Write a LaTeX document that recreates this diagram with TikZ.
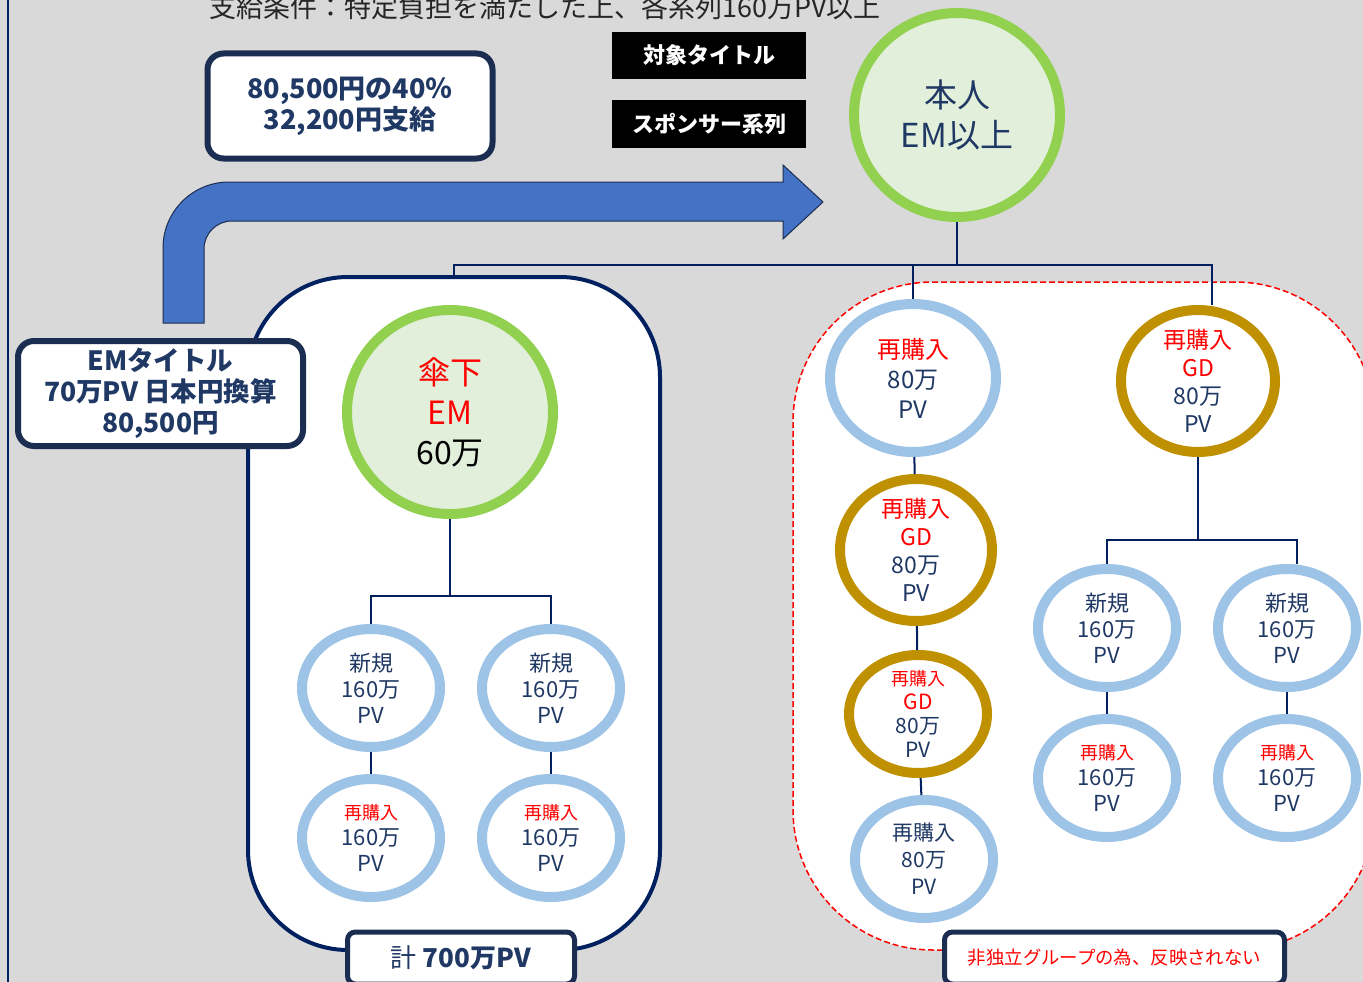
\documentclass[tikz,border=0pt]{standalone}
\usepackage{fontspec}
\setmainfont{Noto Sans CJK JP}
\usetikzlibrary{shapes.geometric}

\definecolor{bggray}{HTML}{D9D9D9}
\definecolor{linenavy}{HTML}{002060}
\definecolor{boxnavy}{HTML}{1C2D52}
\definecolor{textnavy}{HTML}{1F3864}
\definecolor{ringblue}{HTML}{9DC3E6}
\definecolor{ringgold}{HTML}{BF9000}
\definecolor{ringgreen}{HTML}{92D050}
\definecolor{greenfill}{HTML}{E2EFDA}
\definecolor{arrowblue}{HTML}{4472C4}

\begin{document}
\begin{tikzpicture}[x=1pt, y=-1pt,
    wire/.style={draw=linenavy, line width=2pt},
    ring/.style={ellipse, draw, line width=10pt, fill=white, inner sep=-12pt, align=center, text=textnavy, font=\fontsize{22}{26}\selectfont},
    blue ring/.style={ring, draw=ringblue, minimum width=138pt, minimum height=118pt},
    gold ring/.style={ring, draw=ringgold},
    green ring/.style={ring, draw=ringgreen, fill=greenfill, minimum width=206pt, minimum height=204pt},
    infobox/.style={draw=boxnavy, line width=6pt, fill=white, rounded corners=16pt, align=center, text=textnavy, minimum width=285pt, minimum height=105pt, font=\bfseries\fontsize{26.5}{31}\selectfont},
    tagbox/.style={fill=black, text=white, minimum width=194pt, minimum height=47pt, font=\bfseries\fontsize{22}{26}\selectfont}]

    \useasboundingbox (0,0) rectangle (1363,982);
    \clip (0,0) rectangle (1363,982);
    \fill[bggray] (0,0) rectangle (1363,982);
    \draw[linenavy, line width=1.5pt] (8,0) -- (8,982);

    \node[font=\fontsize{27}{30}\selectfont, text=black!85] (cond) at (545,7) {支給条件：特定負担を満たした上、各系列160万PV以上};

    % bent arrow
    \filldraw[fill=arrowblue, draw=boxnavy, line width=1pt] (163,323) -- (163,248) .. controls (163,211.5) and (192.5,182) .. (229,182) -- (783,182) -- (783,165) -- (823,202) -- (783,239) -- (783,221) -- (232,221) .. controls (216.5,221) and (204,233.5) .. (204,249) -- (204,323) -- cycle;

    \node[infobox, font=\bfseries\fontsize{27}{31}\selectfont] (pay) at (350,106) {80,500円の40％\\32,200円支給};
    \node[tagbox] (tag1) at (709,55.5) {対象タイトル};
    \node[tagbox, minimum height=48pt] (tag2) at (709,124) {スポンサー系列};

    % groups
    \node[draw=linenavy, line width=4pt, fill=white, rounded corners=100pt, minimum width=412pt, minimum height=673pt] (lbox) at (454,613.5) {};
    \node[draw=red, dash pattern=on 6pt off 3pt, line width=1.5pt, fill=white, rounded corners=140pt, minimum width=582pt, minimum height=668pt] (rbox) at (1084,616) {};

    \node[infobox] (emtitle) at (160.5,393.5) {EMタイトル\\70万PV 日本円換算\\80,500円};

    \node[green ring, font=\fontsize{33}{40}\selectfont] (top) at (957,115) {本人\\EM以上};
    \node[green ring, text=black, font=\fontsize{32}{40}\selectfont] (em) at (450,412) {\textcolor{red}{傘下}\\\textcolor{red}{EM}\\60万};

    % left tree
    \node[blue ring] (n1) at (371,688) {新規\\160万\\PV};
    \node[blue ring] (n2) at (551,688) {新規\\160万\\PV};
    \node[blue ring] (r1) at (371,838) {{\color{red}\fontsize{18}{22}\selectfont 再購入}\\160万\\PV};
    \node[blue ring] (r2) at (551,838) {{\color{red}\fontsize{18}{22}\selectfont 再購入}\\160万\\PV};

    % right group
    \node[blue ring, minimum width=166pt, minimum height=148pt, font=\fontsize{24}{30}\selectfont] (re1) at (913,378) {\textcolor{red}{再購入}\\80万\\PV};
    \node[gold ring, minimum width=152pt, minimum height=142pt, font=\fontsize{23}{28}\selectfont] (gd2) at (916,550) {\textcolor{red}{再購入}\\\textcolor{red}{GD}\\80万\\PV};
    \node[gold ring, minimum width=138pt, minimum height=118pt, font=\fontsize{21}{24}\selectfont] (gd3) at (918,714) {{\color{red}\fontsize{18}{22}\selectfont 再購入}\\\textcolor{red}{GD}\\80万\\PV};
    \node[blue ring, font=\fontsize{21}{27}\selectfont] (re2) at (924,859) {再購入\\80万\\PV};
    \node[gold ring, minimum width=154pt, minimum height=142pt, font=\fontsize{23}{28}\selectfont] (gd1) at (1198,381) {\textcolor{red}{再購入}\\\textcolor{red}{GD}\\80万\\PV};
    \node[blue ring] (n3) at (1107,628) {新規\\160万\\PV};
    \node[blue ring] (n4) at (1287,628) {新規\\160万\\PV};
    \node[blue ring] (r3) at (1107,778) {{\color{red}\fontsize{18}{22}\selectfont 再購入}\\160万\\PV};
    \node[blue ring] (r4) at (1287,778) {{\color{red}\fontsize{18}{22}\selectfont 再購入}\\160万\\PV};

    % wires
    \coordinate (hub) at (957,265);
    \coordinate (lbus) at (450,596);
    \coordinate (rbus) at (1198,540);
    \draw[wire] (top.south) -- (hub);
    \draw[wire] (lbox.north) |- (hub) -| ([xshift=14pt]gd1.north);
    \draw[wire] (re1.north) -- (re1.north |- hub);
    \draw[wire] (em.south) -- (lbus);
    \draw[wire] (n1.north) |- (lbus) -| (n2.north);
    \draw[wire] (n1) -- (r1);
    \draw[wire] (n2) -- (r2);
    \draw[wire] (gd1.south) -- (rbus);
    \draw[wire] (n3.north) |- (rbus) -| ([xshift=10pt]n4.north);
    \draw[wire] (n3) -- (r3);
    \draw[wire] (n4) -- (r4);
    \draw[wire] (re1) -- (gd2);
    \draw[wire] (gd2) -- (gd3);
    \draw[wire] (gd3) -- (re2);

    % labels at the bottom
    \node[draw=boxnavy, line width=5pt, fill=white, rounded corners=8pt, minimum width=227pt, minimum height=52pt, text=textnavy, font=\fontsize{26}{30}\selectfont] (total) at (461,958) {計 \textbf{700万PV}};
    \node[draw=boxnavy, line width=5pt, fill=white, rounded corners=8pt, minimum width=340pt, minimum height=52pt, text=red, font=\fontsize{18.4}{22}\selectfont] (note) at (1114.5,958) {非独立グループの為、反映されない};
\end{tikzpicture}
\end{document}
